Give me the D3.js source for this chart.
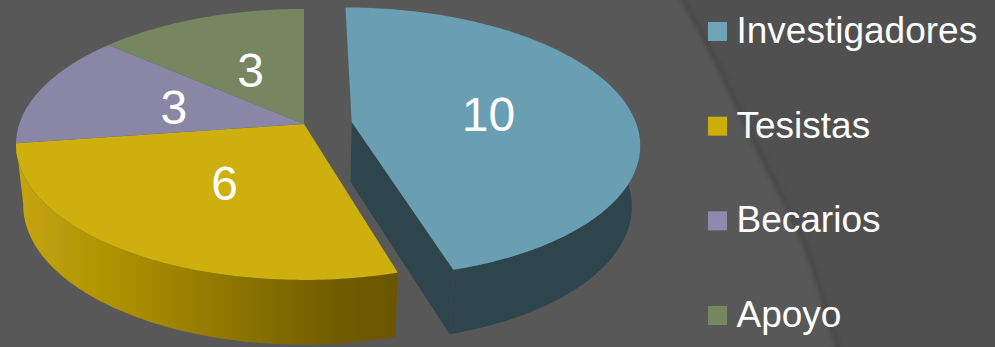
<!DOCTYPE html>
<html>
<head>
<meta charset="utf-8">
<script src="https://cdn.jsdelivr.net/npm/d3@7"></script>
<style>
  html, body { margin: 0; padding: 0; background: #585858; }
  svg { display: block; font-family: "Liberation Sans", Arial, sans-serif; }
</style>
</head>
<body>
<svg id="chart" width="995" height="347"></svg>
<script>
// Staff composition of the research group
const categories = ["Investigadores", "Tesistas", "Becarios", "Apoyo"];
const values = [10, 6, 3, 3];
const topColors = ["#6b9eb2", "#cdaf08", "#8a86a6", "#748660"];
const legendColors = ["#6fa3b7", "#ccae0a", "#8f8aac", "#76875f"];

const svg = d3.select("#chart");
const defs = svg.append("defs");

// Slide background: two greys split by a soft sweeping curve
defs.append("filter").attr("id", "soft").attr("x", "-20%").attr("width", "140%")
  .append("feGaussianBlur").attr("stdDeviation", 2.2);
defs.append("filter").attr("id", "edge")
  .append("feGaussianBlur").attr("stdDeviation", 0.5);

const sweep = [[680, -5], [707, 43], [760, 153], [803, 240], [839, 352]];
const sweepLine = d3.line().curve(d3.curveCatmullRom);
svg.append("rect").attr("width", 995).attr("height", 347).attr("fill", "#585858");
svg.append("path")
  .attr("d", sweepLine(sweep) + "L1000,352L1000,-5Z")
  .attr("fill", "#505050");
svg.append("path")
  .attr("d", sweepLine(sweep))
  .attr("fill", "none").attr("stroke", "#474747").attr("stroke-width", 5)
  .attr("filter", "url(#soft)");

// Tilted pie: the unit disc is projected through a perspective homography
const centre = { x: 304, y: 124 };
const persp = { k: -0.151, a: 132.4, c: 284.7 };
const wall = { dy: 60, sx: 0.975, sy: 1.03 };
const explode = [[0.168, -0.015], [0, 0], [0, 0], [0, 0]];

function projectTop(theta, r, off) {
  const u = r * Math.sin(theta) + off[0];
  const v = -r * Math.cos(theta) + off[1];
  const w = 1 + persp.k * v;
  return [centre.x + persp.c * u / w, centre.y + persp.a * v / w];
}
function projectBottom(p) {
  return [centre.x + (p[0] - centre.x) * wall.sx,
          centre.y + (p[1] - centre.y) * wall.sy + wall.dy];
}

const arcs = d3.pie().sort(null)(values);
const line = d3.line();
const STEP = Math.PI / 180;

function rim(a0, a1, off) {
  return d3.range(a0, a1, STEP).concat([a1]).map(t => projectTop(t, 1, off));
}

// Side of the tesistas slice fades towards the front
const grad = defs.append("linearGradient").attr("id", "wallTesistas")
  .attr("gradientUnits", "userSpaceOnUse")
  .attr("x1", 20).attr("x2", 398).attr("y1", 0).attr("y2", 0);
[[0, "#c4a408"], [0.3, "#a98d05"], [0.6, "#8a7203"], [0.85, "#6f5b00"], [1, "#6b5700"]]
  .forEach(s => grad.append("stop").attr("offset", s[0]).attr("stop-color", s[1]));

const pieGroup = svg.append("g").attr("filter", "url(#edge)");

// Outer walls: only the part of the rim facing the viewer is drawn
function outerWall(i, fill, from) {
  const a = arcs[i];
  const top = rim(Math.max(a.startAngle, from), a.endAngle, explode[i]);
  const bottom = top.map(projectBottom).reverse();
  pieGroup.append("path").attr("d", line(top.concat(bottom)) + "Z").attr("fill", fill);
}
outerWall(1, "url(#wallTesistas)", 0);

// Flat tops of the three slices that stay in place
[1, 2, 3].forEach(i => {
  const a = arcs[i];
  const pts = [projectTop(0, 0, explode[i])].concat(rim(a.startAngle, a.endAngle, explode[i]));
  pieGroup.append("path").attr("d", line(pts) + "Z").attr("fill", topColors[i]);
});

// Exploded slice: outer wall, cut face, then its top
outerWall(0, "#2e444c", Math.PI / 3);
{
  const a = arcs[0];
  const off = explode[0];
  const apex = projectTop(0, 0, off);
  const corner = projectTop(a.endAngle, 1, off);
  pieGroup.append("path")
    .attr("d", line([apex, corner, projectBottom(corner), projectBottom(apex)]) + "Z")
    .attr("fill", "#2e444c");
  pieGroup.append("path")
    .attr("d", line([apex].concat(rim(a.startAngle, a.endAngle, off))) + "Z")
    .attr("fill", topColors[0]);
}

// Value labels sit halfway out along each slice's middle angle
arcs.forEach((a, i) => {
  const p = projectTop((a.startAngle + a.endAngle) / 2, 0.49, explode[i]);
  svg.append("text")
    .attr("x", p[0] + 1).attr("y", p[1] + 18)
    .attr("text-anchor", "middle")
    .attr("font-size", 48)
    .attr("fill", "#ffffff")
    .text(a.data);
});

// Legend
const legendY = d3.scalePoint().domain(categories).range([43, 327]);
const legend = svg.append("g").selectAll("g").data(categories).join("g")
  .attr("transform", d => `translate(708,${legendY(d)})`);
legend.append("rect")
  .attr("y", -21).attr("width", 19).attr("height", 19)
  .attr("fill", (d, i) => legendColors[i]);
legend.append("text")
  .attr("x", 28.5)
  .attr("font-size", 37)
  .attr("fill", "#ffffff")
  .text(d => d);
</script>
</body>
</html>
